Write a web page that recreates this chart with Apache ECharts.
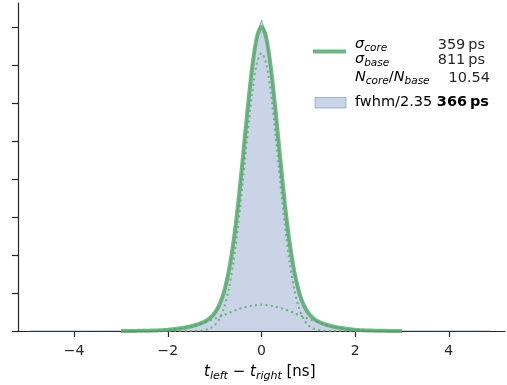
<!DOCTYPE html>
<html>
<head>
<meta charset="utf-8">
<script src="https://cdn.jsdelivr.net/npm/echarts@6/dist/echarts.min.js"></script>
<style>html,body{margin:0;padding:0;background:#fff}#c{width:507px;height:385px}</style>
</head>
<body>
<div id="c"></div>
<script>
// x positions of the fitted curves [ns]
const fitX = [-3.0,-2.9,-2.8,-2.7,-2.6,-2.5,-2.4,-2.3,-2.2,-2.1,-2.0,-1.9,-1.8,-1.7,-1.6,-1.5,-1.4,-1.3,-1.2,-1.1,-1.0,-0.9,-0.8,-0.7,-0.6,-0.5,-0.4,-0.3,-0.2,-0.1,0.0,0.1,0.2,0.3,0.4,0.5,0.6,0.7,0.8,0.9,1.0,1.1,1.2,1.3,1.4,1.5,1.6,1.7,1.8,1.9,2.0,2.1,2.2,2.3,2.4,2.5,2.6,2.7,2.8,2.9,3.0];
// total fit (core + base)
const fitTotal = [0.001,0.001,0.002,0.003,0.004,0.006,0.009,0.012,0.017,0.024,0.033,0.044,0.059,0.077,0.099,0.126,0.159,0.201,0.258,0.342,0.474,0.689,1.036,1.570,2.338,3.350,4.552,5.814,6.946,7.736,8.020,7.736,6.946,5.814,4.552,3.350,2.338,1.570,1.036,0.689,0.474,0.342,0.258,0.201,0.159,0.126,0.099,0.077,0.059,0.044,0.033,0.024,0.017,0.012,0.009,0.006,0.004,0.003,0.002,0.001,0.001];
// core gaussian component
const fitCore = [0,0,0,0,0,0,0,0,0,0,0,0,0,0,0,0.001,0.004,0.010,0.028,0.067,0.151,0.316,0.612,1.095,1.813,2.779,3.941,5.170,6.277,7.051,7.330,7.051,6.277,5.170,3.941,2.779,1.813,1.095,0.612,0.316,0.151,0.067,0.028,0.010,0.004,0.001,0,0,0,0,0,0,0,0,0,0,0,0,0,0,0];
// base gaussian component
const fitBase = [0.001,0.001,0.002,0.003,0.004,0.006,0.009,0.012,0.017,0.024,0.033,0.044,0.059,0.077,0.099,0.125,0.156,0.191,0.231,0.275,0.323,0.373,0.424,0.475,0.525,0.571,0.611,0.644,0.669,0.685,0.690,0.685,0.669,0.644,0.611,0.571,0.525,0.475,0.424,0.373,0.323,0.275,0.231,0.191,0.156,0.125,0.099,0.077,0.059,0.044,0.033,0.024,0.017,0.012,0.009,0.006,0.004,0.003,0.002,0.001,0.001];
// histogram bin centres [ns] and contents
const histX = [-4.95,-4.5,-4.0,-3.5,-3.0,-2.9,-2.8,-2.7,-2.6,-2.5,-2.4,-2.3,-2.2,-2.1,-2.0,-1.9,-1.8,-1.7,-1.6,-1.5,-1.4,-1.3,-1.2,-1.1,-1.0,-0.9,-0.8,-0.7,-0.6,-0.5,-0.4,-0.3,-0.2,-0.1,0.0,0.1,0.2,0.3,0.4,0.5,0.6,0.7,0.8,0.9,1.0,1.1,1.2,1.3,1.4,1.5,1.6,1.7,1.8,1.9,2.0,2.1,2.2,2.3,2.4,2.5,2.6,2.7,2.8,2.9,3.0,3.5,4.0,4.5,4.9];
const histY = [0,0,0,0.001,0.002,0.001,0.003,0.002,0.005,0.006,0.010,0.011,0.018,0.023,0.035,0.042,0.061,0.075,0.102,0.122,0.163,0.197,0.262,0.338,0.480,0.682,1.045,1.560,2.350,3.340,4.570,5.800,6.960,7.800,8.200,7.820,6.930,5.830,4.540,3.360,2.330,1.580,1.030,0.695,0.470,0.345,0.255,0.204,0.157,0.128,0.097,0.079,0.057,0.046,0.031,0.025,0.016,0.013,0.008,0.007,0.004,0.003,0.002,0.002,0.001,0.001,0,0,0];
const xTicks = [-4,-2,0,2,4];
const yTicks = [0,1,2,3,4,5,6,7,8];
const legendRows = [['core','359\u2009ps'],['base','811\u2009ps']];
const ratioText = '10.54';
const fwhmLabel = 'fwhm/2.35 ';
const fwhmValue = '366\u2009ps';

const pair = (xs, ys) => xs.map((x, i) => [x, ys[i]]);
const FONT = 'DejaVu Sans';
const INK = '#262626';
const GREEN = '#55a868';

const chart = echarts.init(document.getElementById('c'), null, {renderer: 'canvas'});

const mkRich = (main, sub) => ({
  m: {fontFamily: FONT, fontStyle: 'italic', fontSize: main, color: INK, lineHeight: 18, verticalAlign: 'middle'},
  s: {fontFamily: FONT, fontStyle: 'italic', fontSize: sub, color: INK, lineHeight: 10, verticalAlign: 'bottom'},
  n: {fontFamily: FONT, fontSize: main, color: INK, lineHeight: 18, verticalAlign: 'middle'}
});
const legRich = mkRich(14.5, 10.5);
const axRich = mkRich(15, 11);
const VAL_FONT = '14.5px "DejaVu Sans"';

const graphics = [
  {type: 'line', shape: {x1: 313, y1: 51.5, x2: 346, y2: 51.5}, style: {stroke: GREEN, lineWidth: 4, opacity: 0.85}, z: 10},
  {type: 'rect', shape: {x: 315, y: 97.5, width: 31, height: 10.5}, style: {fill: 'rgba(76,114,176,0.3)', stroke: 'rgba(76,114,176,0.45)', lineWidth: 1}, z: 10},
  {type: 'text', left: 355, top: 37, style: {text: '{m|σ}{s|' + legendRows[0][0] + '}', rich: legRich}, z: 10},
  {type: 'text', left: 355, top: 52, style: {text: '{m|σ}{s|' + legendRows[1][0] + '}', rich: legRich}, z: 10},
  {type: 'text', left: 355, top: 70, style: {text: '{m|N}{s|core}{n|/}{m|N}{s|base}', rich: legRich}, z: 10},
  {type: 'text', right: 22, top: 38, style: {text: legendRows[0][1], font: VAL_FONT, fill: INK}, z: 10},
  {type: 'text', right: 22, top: 53, style: {text: legendRows[1][1], font: VAL_FONT, fill: INK}, z: 10},
  {type: 'text', right: 17, top: 71, style: {text: ratioText, font: VAL_FONT, fill: INK}, z: 10},
  {type: 'text', left: 355, top: 95, style: {text: '{n|' + fwhmLabel + '}{b|' + fwhmValue + '}', rich: {
     n: {fontFamily: FONT, fontSize: 14.5, color: INK},
     b: {fontFamily: FONT, fontSize: 14.5, fontWeight: 'bold', color: INK}}}, z: 10},
  {type: 'text', left: 204, top: 365, style: {text: '{m|t}{s|left}{n| \u2212 }{m|t}{s|right}{n| [ns]}', rich: axRich}, z: 10}
];

chart.setOption({
  animation: false,
  backgroundColor: '#fff',
  grid: {left: 18, right: 2, top: 3, bottom: 54, containLabel: false},
  xAxis: {
    type: 'value', min: -5.2, max: 5.2,
    axisLine: {show: true, onZero: false, lineStyle: {color: INK, width: 1.2}},
    axisTick: {show: true, length: 6, lineStyle: {color: INK, width: 1.2}, customValues: xTicks},
    axisLabel: {show: true, customValues: xTicks, margin: 13, color: INK, fontFamily: FONT, fontSize: 14,
      formatter: v => (v < 0 ? '\u2212' + Math.abs(v) : String(v))},
    splitLine: {show: false}
  },
  yAxis: {
    type: 'value', min: 0, max: 8.65,
    axisLine: {show: true, onZero: false, lineStyle: {color: INK, width: 1.2}},
    axisTick: {show: true, length: 6, lineStyle: {color: INK, width: 1.2}, customValues: yTicks},
    axisLabel: {show: false},
    splitLine: {show: false}
  },
  series: [
    {type: 'line', data: pair(histX, histY), symbol: 'none', z: 1,
     lineStyle: {color: 'rgba(76,114,176,0.55)', width: 1},
     areaStyle: {color: 'rgba(76,114,176,0.3)', opacity: 1, origin: 'start'}},
    {type: 'line', data: pair(fitX, fitTotal), symbol: 'none', smooth: 0.3, z: 2,
     lineStyle: {color: GREEN, width: 4, opacity: 0.8}},
    {type: 'line', data: pair(fitX, fitCore), symbol: 'none', smooth: 0.3, z: 3,
     lineStyle: {color: GREEN, width: 2, opacity: 0.8, type: [2, 3.3]}},
    {type: 'line', data: pair(fitX, fitBase), symbol: 'none', smooth: 0.3, z: 3,
     lineStyle: {color: GREEN, width: 2, opacity: 0.8, type: [2, 3.3]}}
  ],
  graphic: graphics
});
</script>
</body>
</html>
